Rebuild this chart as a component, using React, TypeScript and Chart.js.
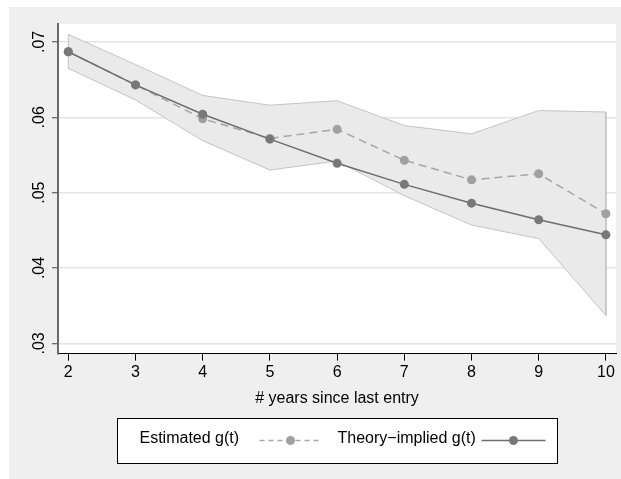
import React, { useEffect, useRef } from "react";
import { Chart, registerables } from "chart.js";

Chart.register(...registerables);

const years = [2, 3, 4, 5, 6, 7, 8, 9, 10];
const estimated = [0.0687, 0.0643, 0.0598, 0.0572, 0.0584, 0.0543, 0.0517, 0.0525, 0.0472];
const theory = [0.0687, 0.0643, 0.0604, 0.0571, 0.0539, 0.0511, 0.0486, 0.0464, 0.0444];
const ciUpper = [0.0710, 0.0670, 0.0629, 0.0616, 0.0622, 0.0589, 0.0578, 0.0609, 0.0607];
const ciLower = [0.0665, 0.0623, 0.0569, 0.0530, 0.0542, 0.0496, 0.0457, 0.0439, 0.0337];
const yTicks = [0.03, 0.04, 0.05, 0.06, 0.07];
const xTicks = [2, 3, 4, 5, 6, 7, 8, 9, 10];
const xTitle = "# years since last entry";
const labelEstimated = "Estimated g(t)";
const labelTheory = "Theory\u2212implied g(t)";

const FONT = "'Liberation Sans', Arial, Helvetica, sans-serif";

const plotBg = {
  id: "plotBg",
  beforeDraw(chart: any) {
    const { ctx, chartArea: a } = chart;
    ctx.save();
    ctx.fillStyle = "#ffffff";
    ctx.fillRect(a.left, a.top, a.right - a.left, a.bottom - a.top);
    ctx.restore();
  },
};

const boxLegend = {
  id: "boxLegend",
  afterDraw(chart: any) {
    const { ctx, chartArea: a } = chart;
    const w = 440;
    const h = 45;
    const cx = (a.left + a.right) / 2;
    const left = Math.round(cx - w / 2) + 0.5;
    const top = chart.height - 61 + 0.5;
    ctx.save();
    ctx.fillStyle = "#ffffff";
    ctx.fillRect(left, top, w, h);
    ctx.strokeStyle = "#000000";
    ctx.lineWidth = 1;
    ctx.strokeRect(left, top, w, h);

    const ds = chart.data.datasets;
    const items = [
      { d: ds[0], tx: 22, s0: 142, s1: 204, dash: [5, 4] },
      { d: ds[1], tx: 220, s0: 364, s1: 428, dash: [] as number[] },
    ];
    ctx.font = `16px ${FONT}`;
    ctx.textBaseline = "alphabetic";
    ctx.textAlign = "left";
    for (const it of items) {
      ctx.fillStyle = "#000000";
      ctx.fillText(it.d.label, left + it.tx, top + 24);
      const ly = top + 22;
      ctx.strokeStyle = it.d.borderColor;
      ctx.lineWidth = 1.5;
      ctx.setLineDash(it.dash);
      ctx.beginPath();
      ctx.moveTo(left + it.s0, ly);
      ctx.lineTo(left + it.s1, ly);
      ctx.stroke();
      ctx.setLineDash([]);
      ctx.fillStyle = it.d.pointBackgroundColor;
      ctx.beginPath();
      ctx.arc(left + (it.s0 + it.s1) / 2, ly, 4.5, 0, Math.PI * 2);
      ctx.fill();
    }
    ctx.restore();
  },
};

export default function App() {
  const ref = useRef<HTMLCanvasElement>(null);

  useEffect(() => {
    const bandPoints = [
      ...years.map((x, i) => ({ x, y: ciUpper[i] })),
      ...years
        .map((x, i) => ({ x, y: ciLower[i] }))
        .reverse(),
      { x: years[0], y: ciUpper[0] },
    ];

    const chart = new Chart(ref.current as HTMLCanvasElement, {
      type: "line",
      data: {
        datasets: [
          {
            label: labelEstimated,
            data: years.map((x, i) => ({ x, y: estimated[i] })),
            borderColor: "#a6a6a6",
            backgroundColor: "#a0a0a0",
            pointBackgroundColor: "#a0a0a0",
            pointBorderColor: "#a0a0a0",
            borderWidth: 1.5,
            borderDash: [8, 5],
            pointRadius: 4.5,
            pointBorderWidth: 0,
            fill: false,
            order: 2,
          } as any,
          {
            label: labelTheory,
            data: years.map((x, i) => ({ x, y: theory[i] })),
            borderColor: "#6e6e6e",
            backgroundColor: "#787878",
            pointBackgroundColor: "#787878",
            pointBorderColor: "#787878",
            borderWidth: 1.5,
            pointRadius: 4.5,
            pointBorderWidth: 0,
            fill: false,
            order: 1,
          } as any,
          {
            label: "CI",
            data: bandPoints,
            borderColor: "#c4c4c4",
            backgroundColor: "#eaeaea",
            borderWidth: 1,
            pointRadius: 0,
            fill: "shape",
            order: 3,
          } as any,
        ],
      },
      options: {
        animation: false,
        responsive: false,
        devicePixelRatio: 1,
        layout: { padding: { left: 0, right: 5, top: 17, bottom: 71 } },
        plugins: {
          legend: { display: false },
          tooltip: { enabled: false },
        },
        scales: {
          x: {
            type: "linear",
            min: 1.847,
            max: 10.15,
            afterBuildTicks: (s: any) => {
              s.ticks = xTicks.map((v) => ({ value: v }));
            },
            grid: {
              drawOnChartArea: false,
              drawTicks: true,
              tickLength: 7,
              tickColor: "#000000",
              tickWidth: 1,
            },
            border: { color: "#000000", width: 1 },
            ticks: {
              color: "#000000",
              font: { family: FONT, size: 16 },
              padding: 2,
              maxRotation: 0,
              autoSkip: false,
              callback: (v: any) => String(v),
            },
            title: {
              display: true,
              text: xTitle,
              color: "#000000",
              font: { family: FONT, size: 16 },
              padding: { top: 5, bottom: 0 },
            },
          },
          y: {
            type: "linear",
            min: 0.02864,
            max: 0.07238,
            afterBuildTicks: (s: any) => {
              s.ticks = yTicks.map((v) => ({ value: v }));
            },
            afterFit: (s: any) => {
              s.width = 49;
            },
            grid: {
              color: "#e4e4e4",
              lineWidth: 1.5,
              tickLength: 6,
              tickColor: "#444444",
              tickWidth: 1,
            },
            border: { color: "#6a6a6a", width: 2 },
            ticks: {
              color: "#000000",
              font: { family: FONT, size: 16 },
              minRotation: 90,
              maxRotation: 90,
              crossAlign: "center",
              padding: 1,
              callback: (v: any) => Number(v).toFixed(2).replace(/^0/, ""),
            },
          },
        },
      } as any,
      plugins: [plotBg, boxLegend],
    });
    return () => chart.destroy();
  }, []);

  return (
    <div
      style={{
        position: "fixed",
        left: 0,
        top: 0,
        width: 621,
        height: 479,
        background: "#ffffff",
        overflow: "hidden",
      }}
    >
      <div
        style={{
          position: "absolute",
          left: 9,
          top: 7,
          width: 612,
          height: 472,
          background: "#efefef",
        }}
      >
        <canvas
          ref={ref}
          width={612}
          height={472}
          style={{ display: "block", width: 612, height: 472 }}
        />
      </div>
    </div>
  );
}
